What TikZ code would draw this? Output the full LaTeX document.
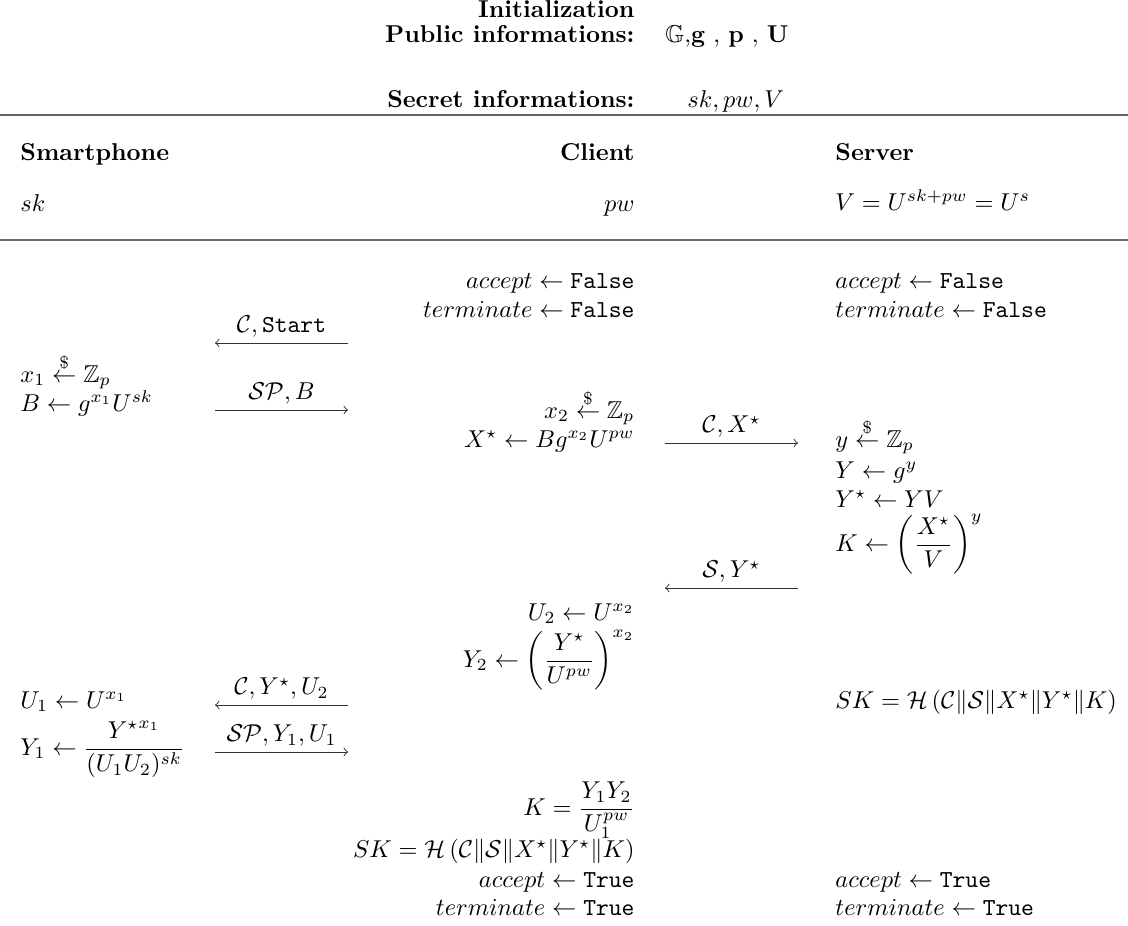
\documentclass[tikz,border=0pt]{standalone}
\usepackage{amsmath,amssymb}
\begin{document}
\begin{tikzpicture}[
    x=0.41pt, y=-0.41pt,
    % Left-aligned column entries (smartphone, server)
    colL/.style={anchor=mid west, inner sep=0pt},
    % Right-aligned column entries (client, titles)
    colR/.style={anchor=mid east, inner sep=0pt},
    % Exchanged messages
    msg/.style={draw=black!80, thin, ->},
    lbl/.style={above, inner sep=2pt, text=black},
    regua/.style={draw=black!60, line width=0.5pt}
]
\useasboundingbox (0,0) rectangle (1128,925);

% ---- INITIALIZATION ----
\node[colR] (ini)    at (635, 12)  {\textbf{Initialization}};
\node[colR] (pub)    at (635, 37)  {\textbf{Public informations:}};
\node[colL] (pubv)   at (665, 37)  {$\mathbb{G},$\textbf{g} , \textbf{p} , \textbf{U}};
\node[colR] (sec)    at (635, 102) {\textbf{Secret informations:}};
\node[colL] (secv)   at (687, 102) {$sk, pw, V$};

\coordinate (r1_w) at (0, 115);
\coordinate (r1_e) at (1128, 115);
\draw[regua] (r1_w) -- (r1_e);

% ---- PARTIES ----
\node[colL] (h_sp)  at (20, 155)  {\textbf{Smartphone}};
\node[colR] (h_cl)  at (635, 155) {\textbf{Client}};
\node[colL] (h_sv)  at (835, 155) {\textbf{Server}};

\node[colL] (k_sp)  at (20, 206)  {$sk$};
\node[colR] (k_cl)  at (635, 206) {$pw$};
\node[colL] (k_sv)  at (835, 205) {$V = U^{sk+pw} = U^s$};

\coordinate (r2_w) at (0, 240);
\coordinate (r2_e) at (1128, 240);
\draw[regua] (r2_w) -- (r2_e);

% ---- FLAGS ----
\node[colR] (c_acc0) at (635, 283) {$accept \leftarrow \texttt{False}$};
\node[colR] (c_ter0) at (635, 312) {$terminate \leftarrow \texttt{False}$};
\node[colL] (s_acc0) at (835, 283) {$accept \leftarrow \texttt{False}$};
\node[colL] (s_ter0) at (835, 312) {$terminate \leftarrow \texttt{False}$};

% ---- MESSAGE 1: client -> smartphone ----
\coordinate (m1_a) at (348, 343);
\coordinate (m1_b) at (215, 343);
\draw[msg] (m1_a) -- node[lbl] {$\mathcal{C}, \texttt{Start}$} (m1_b);

% ---- SMARTPHONE: B ----
\node[colL] (sp_x1) at (20, 377) {$x_1 \overset{\$}{\leftarrow} \mathbb{Z}_p$};
\node[colL] (sp_b)  at (20, 406) {$B \leftarrow g^{x_1} U^{sk}$};

% ---- MESSAGE 2: smartphone -> client ----
\coordinate (m2_a) at (215, 410);
\coordinate (m2_b) at (348, 410);
\draw[msg] (m2_a) -- node[lbl] {$\mathcal{SP}, B$} (m2_b);

% ---- CLIENT: X* ----
\node[colR] (cl_x2) at (635, 413) {$x_2 \overset{\$}{\leftarrow} \mathbb{Z}_p$};
\node[colR] (cl_xs) at (635, 442) {$X^\star \leftarrow B g^{x_2} U^{pw}$};

% ---- MESSAGE 3: client -> server ----
\coordinate (m3_a) at (665, 443);
\coordinate (m3_b) at (798, 443);
\draw[msg] (m3_a) -- node[lbl] {$\mathcal{C}, X^\star$} (m3_b);

% ---- SERVER: Y*, K ----
\node[colL] (sv_y)  at (835, 442) {$y \overset{\$}{\leftarrow} \mathbb{Z}_p$};
\node[colL] (sv_Y)  at (835, 473) {$Y \leftarrow g^y$};
\node[colL] (sv_ys) at (835, 502) {$Y^\star \leftarrow Y V$};
\node[colL] (sv_k)  at (835, 546) {$K \leftarrow \displaystyle\left(\frac{X^\star}{V}\right)^{y}$};

% ---- MESSAGE 4: server -> client ----
\coordinate (m4_a) at (798, 588);
\coordinate (m4_b) at (665, 588);
\draw[msg] (m4_a) -- node[lbl] {$\mathcal{S}, Y^\star$} (m4_b);

% ---- CLIENT: U2, Y2 ----
\node[colR] (cl_u2) at (635, 615) {$U_2 \leftarrow U^{x_2}$};
\node[colR] (cl_y2) at (635, 662) {$Y_2 \leftarrow \displaystyle\left(\frac{Y^\star}{U^{pw}}\right)^{x_2}$};

% ---- MESSAGE 5: client -> smartphone ----
\coordinate (m5_a) at (348, 705);
\coordinate (m5_b) at (215, 705);
\draw[msg] (m5_a) -- node[lbl] {$\mathcal{C}, Y^\star, U_2$} (m5_b);

% ---- SMARTPHONE: U1, Y1 ----
\node[colL] (sp_u1) at (20, 703) {$U_1 \leftarrow U^{x_1}$};
\node[colL] (sp_y1) at (20, 750) {$Y_1 \leftarrow \displaystyle\frac{{Y^\star}^{x_1}}{(U_1 U_2)^{sk}}$};

% ---- SERVER: session key ----
\node[colL] (sv_sk) at (835, 703) {$SK = \mathcal{H}\left(\mathcal{C} \| \mathcal{S} \| X^\star \| Y^\star \| K\right)$};

% ---- MESSAGE 6: smartphone -> client ----
\coordinate (m6_a) at (215, 752);
\coordinate (m6_b) at (348, 752);
\draw[msg] (m6_a) -- node[lbl] {$\mathcal{SP}, Y_1, U_1$} (m6_b);

% ---- CLIENT: K and session key ----
\node[colR] (cl_k)  at (635, 810) {$K = \displaystyle\frac{Y_1 Y_2}{U_1^{pw}}$};
\node[colR] (cl_sk) at (635, 852) {$SK = \mathcal{H}\left(\mathcal{C} \| \mathcal{S} \| X^\star \| Y^\star \| K\right)$};

% ---- FINAL FLAGS ----
\node[colR] (c_acc1) at (635, 882) {$accept \leftarrow \texttt{True}$};
\node[colR] (c_ter1) at (635, 910) {$terminate \leftarrow \texttt{True}$};
\node[colL] (s_acc1) at (835, 882) {$accept \leftarrow \texttt{True}$};
\node[colL] (s_ter1) at (835, 910) {$terminate \leftarrow \texttt{True}$};

\end{tikzpicture}
\end{document}
